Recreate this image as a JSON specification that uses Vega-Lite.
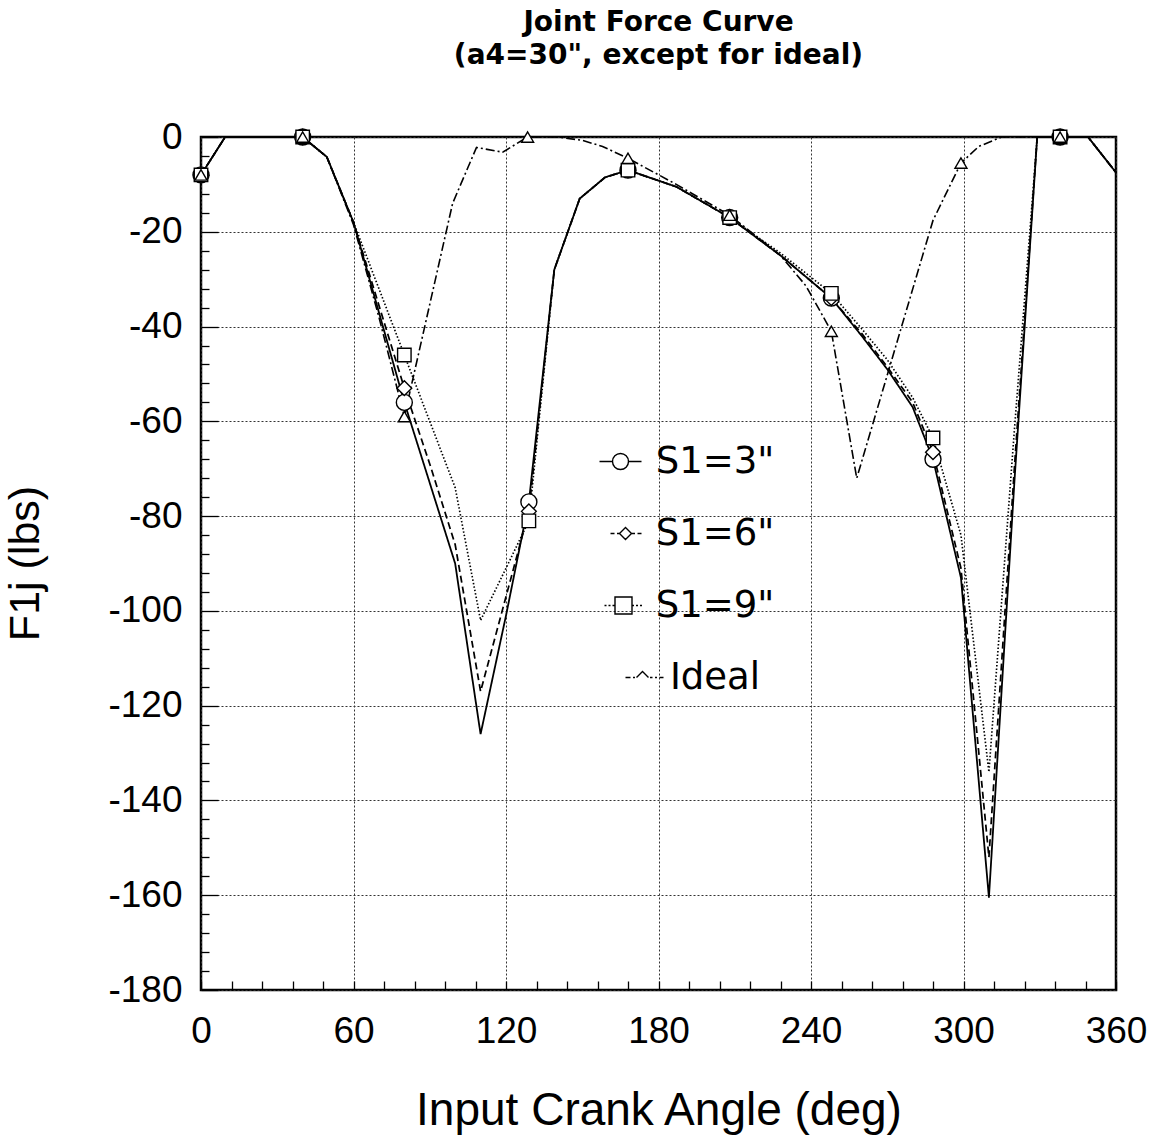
{
  "$schema": "https://vega.github.io/schema/vega-lite/v6.json",
  "width": 915,
  "height": 853,
  "autosize": {"type": "none"},
  "padding": {"left": 201, "top": 137, "right": 50, "bottom": 148},
  "background": "white",
  "title": {
    "text": ["Joint Force Curve", "(a4=30\", except for ideal)"],
    "font": "DejaVu Sans",
    "fontWeight": "bold",
    "fontSize": 28,
    "lineHeight": 33,
    "anchor": "middle",
    "offset": 48,
    "color": "black"
  },
  "datasets": {
    "lines": [
      {"series": "S1=3\"", "angle": 0, "force": -8},
      {"series": "S1=3\"", "angle": 9.5, "force": 0},
      {"series": "S1=3\"", "angle": 40, "force": 0},
      {"series": "S1=3\"", "angle": 49.5, "force": -4.2},
      {"series": "S1=3\"", "angle": 60, "force": -18},
      {"series": "S1=3\"", "angle": 70, "force": -37},
      {"series": "S1=3\"", "angle": 80, "force": -56},
      {"series": "S1=3\"", "angle": 90, "force": -73},
      {"series": "S1=3\"", "angle": 100, "force": -90},
      {"series": "S1=3\"", "angle": 110, "force": -126},
      {"series": "S1=3\"", "angle": 120, "force": -101},
      {"series": "S1=3\"", "angle": 129, "force": -77},
      {"series": "S1=3\"", "angle": 139, "force": -28},
      {"series": "S1=3\"", "angle": 149, "force": -13},
      {"series": "S1=3\"", "angle": 159, "force": -8.5},
      {"series": "S1=3\"", "angle": 168, "force": -7},
      {"series": "S1=3\"", "angle": 187, "force": -10.5},
      {"series": "S1=3\"", "angle": 208, "force": -17},
      {"series": "S1=3\"", "angle": 228, "force": -25},
      {"series": "S1=3\"", "angle": 248, "force": -34},
      {"series": "S1=3\"", "angle": 260, "force": -42},
      {"series": "S1=3\"", "angle": 270, "force": -49},
      {"series": "S1=3\"", "angle": 280, "force": -57},
      {"series": "S1=3\"", "angle": 288, "force": -68},
      {"series": "S1=3\"", "angle": 299, "force": -93},
      {"series": "S1=3\"", "angle": 310, "force": -160.5},
      {"series": "S1=3\"", "angle": 320, "force": -73},
      {"series": "S1=3\"", "angle": 329, "force": 0},
      {"series": "S1=3\"", "angle": 349, "force": 0},
      {"series": "S1=3\"", "angle": 360, "force": -7.5},

      {"series": "S1=6\"", "angle": 0, "force": -8},
      {"series": "S1=6\"", "angle": 9.5, "force": 0},
      {"series": "S1=6\"", "angle": 40, "force": 0},
      {"series": "S1=6\"", "angle": 49.5, "force": -4.2},
      {"series": "S1=6\"", "angle": 60, "force": -18},
      {"series": "S1=6\"", "angle": 70, "force": -35.5},
      {"series": "S1=6\"", "angle": 80, "force": -53},
      {"series": "S1=6\"", "angle": 90, "force": -69},
      {"series": "S1=6\"", "angle": 100, "force": -86},
      {"series": "S1=6\"", "angle": 110, "force": -117},
      {"series": "S1=6\"", "angle": 120, "force": -97},
      {"series": "S1=6\"", "angle": 129, "force": -79},
      {"series": "S1=6\"", "angle": 139, "force": -28},
      {"series": "S1=6\"", "angle": 149, "force": -13},
      {"series": "S1=6\"", "angle": 159, "force": -8.5},
      {"series": "S1=6\"", "angle": 168, "force": -7},
      {"series": "S1=6\"", "angle": 187, "force": -10.5},
      {"series": "S1=6\"", "angle": 208, "force": -17},
      {"series": "S1=6\"", "angle": 228, "force": -25},
      {"series": "S1=6\"", "angle": 248, "force": -34},
      {"series": "S1=6\"", "angle": 260, "force": -41.5},
      {"series": "S1=6\"", "angle": 270, "force": -48.5},
      {"series": "S1=6\"", "angle": 280, "force": -56},
      {"series": "S1=6\"", "angle": 288, "force": -66.5},
      {"series": "S1=6\"", "angle": 299, "force": -91},
      {"series": "S1=6\"", "angle": 310, "force": -152},
      {"series": "S1=6\"", "angle": 320, "force": -70},
      {"series": "S1=6\"", "angle": 329, "force": 0},
      {"series": "S1=6\"", "angle": 349, "force": 0},
      {"series": "S1=6\"", "angle": 360, "force": -7.5},

      {"series": "S1=9\"", "angle": 0, "force": -8},
      {"series": "S1=9\"", "angle": 9.5, "force": 0},
      {"series": "S1=9\"", "angle": 40, "force": 0},
      {"series": "S1=9\"", "angle": 49.5, "force": -4.2},
      {"series": "S1=9\"", "angle": 60, "force": -18},
      {"series": "S1=9\"", "angle": 70, "force": -32},
      {"series": "S1=9\"", "angle": 80, "force": -46},
      {"series": "S1=9\"", "angle": 90, "force": -60},
      {"series": "S1=9\"", "angle": 100, "force": -74},
      {"series": "S1=9\"", "angle": 110, "force": -102},
      {"series": "S1=9\"", "angle": 120, "force": -91},
      {"series": "S1=9\"", "angle": 129, "force": -81},
      {"series": "S1=9\"", "angle": 139, "force": -28},
      {"series": "S1=9\"", "angle": 149, "force": -13},
      {"series": "S1=9\"", "angle": 159, "force": -8.5},
      {"series": "S1=9\"", "angle": 168, "force": -7},
      {"series": "S1=9\"", "angle": 187, "force": -10.5},
      {"series": "S1=9\"", "angle": 208, "force": -17},
      {"series": "S1=9\"", "angle": 228, "force": -24.5},
      {"series": "S1=9\"", "angle": 248, "force": -33},
      {"series": "S1=9\"", "angle": 260, "force": -40.5},
      {"series": "S1=9\"", "angle": 270, "force": -47},
      {"series": "S1=9\"", "angle": 280, "force": -55},
      {"series": "S1=9\"", "angle": 288, "force": -63.5},
      {"series": "S1=9\"", "angle": 299, "force": -84},
      {"series": "S1=9\"", "angle": 310, "force": -134},
      {"series": "S1=9\"", "angle": 320, "force": -62},
      {"series": "S1=9\"", "angle": 329, "force": 0},
      {"series": "S1=9\"", "angle": 349, "force": 0},
      {"series": "S1=9\"", "angle": 360, "force": -7.5},

      {"series": "Ideal", "angle": 0, "force": -8},
      {"series": "Ideal", "angle": 9.5, "force": 0},
      {"series": "Ideal", "angle": 40, "force": 0},
      {"series": "Ideal", "angle": 49.5, "force": -4.2},
      {"series": "Ideal", "angle": 60, "force": -18.5},
      {"series": "Ideal", "angle": 70, "force": -38},
      {"series": "Ideal", "angle": 80, "force": -59},
      {"series": "Ideal", "angle": 99, "force": -14},
      {"series": "Ideal", "angle": 108.4, "force": -2.2},
      {"series": "Ideal", "angle": 118.7, "force": -3.2},
      {"series": "Ideal", "angle": 128.5, "force": 0},
      {"series": "Ideal", "angle": 140, "force": 0},
      {"series": "Ideal", "angle": 150, "force": -0.7},
      {"series": "Ideal", "angle": 158, "force": -2},
      {"series": "Ideal", "angle": 168, "force": -4.5},
      {"series": "Ideal", "angle": 187, "force": -10},
      {"series": "Ideal", "angle": 208, "force": -16.5},
      {"series": "Ideal", "angle": 228, "force": -25},
      {"series": "Ideal", "angle": 238, "force": -31.4},
      {"series": "Ideal", "angle": 248, "force": -41},
      {"series": "Ideal", "angle": 258, "force": -72},
      {"series": "Ideal", "angle": 288, "force": -17.6},
      {"series": "Ideal", "angle": 299, "force": -5.5},
      {"series": "Ideal", "angle": 306, "force": -2},
      {"series": "Ideal", "angle": 315, "force": 0},
      {"series": "Ideal", "angle": 349, "force": 0},
      {"series": "Ideal", "angle": 360, "force": -7.5}
    ],
    "markers": [
      {"series": "S1=3\"", "angle": 0, "force": -8},
      {"series": "S1=3\"", "angle": 40, "force": 0},
      {"series": "S1=3\"", "angle": 80, "force": -56},
      {"series": "S1=3\"", "angle": 129, "force": -77},
      {"series": "S1=3\"", "angle": 168, "force": -7},
      {"series": "S1=3\"", "angle": 208, "force": -17},
      {"series": "S1=3\"", "angle": 248, "force": -34},
      {"series": "S1=3\"", "angle": 288, "force": -68},
      {"series": "S1=3\"", "angle": 338, "force": 0},
      {"series": "S1=6\"", "angle": 0, "force": -8},
      {"series": "S1=6\"", "angle": 40, "force": 0},
      {"series": "S1=6\"", "angle": 80, "force": -53},
      {"series": "S1=6\"", "angle": 129, "force": -79},
      {"series": "S1=6\"", "angle": 168, "force": -7},
      {"series": "S1=6\"", "angle": 208, "force": -17},
      {"series": "S1=6\"", "angle": 248, "force": -34},
      {"series": "S1=6\"", "angle": 288, "force": -66.5},
      {"series": "S1=6\"", "angle": 338, "force": 0},
      {"series": "S1=9\"", "angle": 0, "force": -8},
      {"series": "S1=9\"", "angle": 40, "force": 0},
      {"series": "S1=9\"", "angle": 80, "force": -46},
      {"series": "S1=9\"", "angle": 129, "force": -81},
      {"series": "S1=9\"", "angle": 168, "force": -7},
      {"series": "S1=9\"", "angle": 208, "force": -17},
      {"series": "S1=9\"", "angle": 248, "force": -33},
      {"series": "S1=9\"", "angle": 288, "force": -63.5},
      {"series": "S1=9\"", "angle": 338, "force": 0},
      {"series": "Ideal", "angle": 0, "force": -8},
      {"series": "Ideal", "angle": 40, "force": 0},
      {"series": "Ideal", "angle": 80, "force": -59},
      {"series": "Ideal", "angle": 128.5, "force": 0},
      {"series": "Ideal", "angle": 168, "force": -4.5},
      {"series": "Ideal", "angle": 208, "force": -16.5},
      {"series": "Ideal", "angle": 248, "force": -41},
      {"series": "Ideal", "angle": 299, "force": -5.5},
      {"series": "Ideal", "angle": 338, "force": 0}
    ]
  },
  "encoding": {
    "x": {
      "field": "angle",
      "type": "quantitative",
      "scale": {"domain": [0, 360], "nice": false, "zero": false},
      "axis": {
        "values": [0, 12, 24, 36, 48, 60, 72, 84, 96, 108, 120, 132, 144, 156, 168, 180, 192, 204, 216, 228, 240, 252, 264, 276, 288, 300, 312, 324, 336, 348, 360],
        "labelExpr": "datum.value % 60 === 0 ? '' + datum.value : ''",
        "labelFont": "Liberation Sans",
        "labelFontSize": 37,
        "labelColor": "black",
        "labelPadding": 32,
        "labelFlush": false,
        "labelOverlap": false,
        "labelBaseline": "top",
        "tickSize": -9,
        "tickColor": "black",
        "tickWidth": 1.3,
        "domain": false,
        "grid": true,
        "gridColor": "#333333",
        "gridDash": [2, 2],
        "gridWidth": 1,
        "gridOpacity": {"condition": {"test": "datum.value % 60 === 0", "value": 1}, "value": 0},
        "title": "Input Crank Angle (deg)",
        "titleFont": "Liberation Sans",
        "titleFontSize": 46,
        "titleFontWeight": "normal",
        "titleColor": "black",
        "titleBaseline": "middle",
        "titleY": 120
      }
    },
    "y": {
      "field": "force",
      "type": "quantitative",
      "scale": {"domain": [-180, 0], "nice": false, "zero": false},
      "axis": {
        "values": [-180, -176, -172, -168, -164, -160, -156, -152, -148, -144, -140, -136, -132, -128, -124, -120, -116, -112, -108, -104, -100, -96, -92, -88, -84, -80, -76, -72, -68, -64, -60, -56, -52, -48, -44, -40, -36, -32, -28, -24, -20, -16, -12, -8, -4, 0],
        "labelExpr": "datum.value % 20 === 0 ? '' + datum.value : ''",
        "labelFont": "Liberation Sans",
        "labelFontSize": 37,
        "labelColor": "black",
        "labelPadding": 36,
        "labelOverlap": false,
        "labelFlush": false,
        "labelBaseline": "middle",
        "tickSize": {"condition": {"test": "datum.value % 20 === 0", "value": -17}, "value": -8},
        "tickColor": "black",
        "tickWidth": 1.3,
        "domain": false,
        "grid": true,
        "gridColor": "#333333",
        "gridDash": [2, 2],
        "gridWidth": 1,
        "gridOpacity": {"condition": {"test": "datum.value % 20 === 0", "value": 1}, "value": 0},
        "title": "F1j (lbs)",
        "titleFont": "Liberation Sans",
        "titleFontSize": 43,
        "titleFontWeight": "normal",
        "titleColor": "black",
        "titleAngle": 270,
        "titleAlign": "center",
        "titleBaseline": "middle",
        "titleX": -176,
        "titleY": 426
      }
    }
  },
  "layer": [
    {
      "data": {"name": "lines"},
      "mark": {"type": "line", "color": "black", "strokeJoin": "miter"},
      "encoding": {
        "detail": {"field": "series", "type": "nominal"},
        "strokeDash": {
          "field": "series",
          "type": "nominal",
          "scale": {"domain": ["S1=3\"", "S1=6\"", "S1=9\"", "Ideal"], "range": [[1, 0], [7, 4], [1.5, 2], [9, 3, 2, 3]]},
          "legend": null
        },
        "strokeWidth": {
          "field": "series",
          "type": "nominal",
          "scale": {"domain": ["S1=3\"", "S1=6\"", "S1=9\"", "Ideal"], "range": [1.8, 1.6, 1.1, 1.3]},
          "legend": null
        }
      }
    },
    {
      "data": {"name": "markers"},
      "mark": {"type": "point", "filled": true, "fill": "white", "stroke": "black", "strokeWidth": 1.4, "opacity": 1},
      "encoding": {
        "shape": {
          "field": "series",
          "type": "nominal",
          "scale": {"domain": ["S1=3\"", "S1=6\"", "S1=9\"", "Ideal"], "range": ["circle", "diamond", "square", "triangle-up"]},
          "legend": null
        },
        "size": {
          "field": "series",
          "type": "nominal",
          "scale": {"domain": ["S1=3\"", "S1=6\"", "S1=9\"", "Ideal"], "range": [256, 144, 324, 256]},
          "legend": null
        }
      }
    },
    {
      "data": {"name": "markers"},
      "transform": [{"filter": "false"}],
      "mark": {"type": "point", "filled": false, "stroke": "black", "strokeWidth": 1.4, "size": 400, "opacity": 1},
      "encoding": {
        "shape": {
          "field": "series",
          "type": "nominal",
          "scale": {
            "domain": ["S1=3\"", "S1=6\"", "S1=9\"", "Ideal"],
            "range": [
              "M-2.1,0H-0.8M0.8,0H2.1M0.8,0A0.8,0.8,0,1,1,-0.8,0A0.8,0.8,0,1,1,0.8,0Z",
              "M-1.0,0H-0.6M-0.35,0H-0.1M1.1,0H1.45M1.7,0H2.1M0.5,-0.6L1.1,0L0.5,0.6L-0.1,0Z",
              "M-1.6,0H-1.4M-1.2,0H-1.0M-0.8,0H-0.55M1.15,0H1.35M1.55,0H1.75M1.95,0H2.15M-0.55,-0.85H1.15V0.85H-0.55Z",
              "M0.5,0H1.0M1.25,0H1.45M1.6,0L2.2,-0.6L2.8,0M2.95,0H3.2M3.45,0H3.65M3.9,0H4.3"
            ]
          },
          "legend": {
            "orient": "none",
            "legendX": 401,
            "legendY": 306,
            "title": null,
            "padding": 0,
            "labelFont": "DejaVu Sans",
            "labelFontSize": 37,
            "labelColor": "black",
            "labelAlign": "center",
            "labelOffset": 76,
            "labelLimit": 400,
            "symbolSize": 400,
            "symbolStrokeWidth": 1.4,
            "symbolStrokeColor": "black",
            "symbolFillColor": "transparent",
            "symbolOpacity": 1,
            "rowPadding": 34
          }
        }
      }
    }
  ],
  "resolve": {"scale": {"shape": "independent"}},
  "config": {
    "view": {"stroke": "black", "strokeWidth": 2.5},
    "font": "Liberation Sans"
  }
}
